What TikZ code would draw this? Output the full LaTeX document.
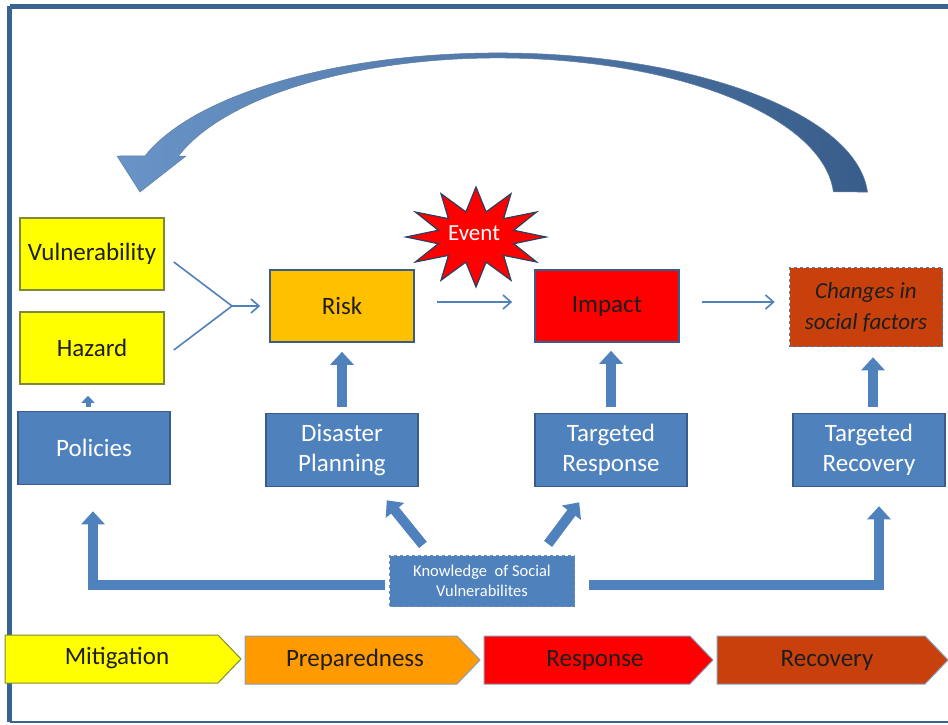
\documentclass[tikz,border=0pt]{standalone}
\usepackage{fontspec}
\setmainfont{Carlito}
\usetikzlibrary{arrows.meta,calc}
\definecolor{bfill}{HTML}{4F81BD}
\definecolor{bline}{HTML}{385D8A}
\definecolor{frameblue}{HTML}{3A6393}
\definecolor{yel}{HTML}{FFFF00}
\definecolor{yline}{HTML}{7D8A3C}
\definecolor{riskc}{HTML}{FFC000}
\definecolor{prepc}{HTML}{FF9A00}
\definecolor{redc}{HTML}{FF0000}
\definecolor{recc}{HTML}{C8400C}
\definecolor{txt}{HTML}{1E1E1E}
\tikzset{
  box/.style={draw=bline, line width=1.6pt, minimum width=144pt, minimum height=72pt, inner sep=0pt, align=center, text=txt, font=\fontsize{25}{30}\selectfont},
  bluebox/.style={box, fill=bfill, minimum width=152pt, minimum height=73pt, text=white},
  thinarrow/.style={draw=bfill, line width=1.6pt, -{Straight Barb[length=8pt,width=14pt,line width=1.6pt]}},
  thinline/.style={draw=bfill, line width=1.6pt},
  blockarrow/.style={draw=bfill, line width=10pt, -{Triangle[length=13pt,width=23pt]}},
  phaseshape/.style={draw=bline!60, line width=1pt},
  phasetext/.style={text=txt, font=\fontsize{25}{30}\selectfont, inner sep=0pt},
}
\begin{document}
\begin{tikzpicture}[x=1pt,y=-1pt]
\useasboundingbox (0,0) rectangle (948,725);
\fill[white] (0,0) rectangle (948,725);
% frame
\draw[frameblue, line width=4.5pt] (9.5,6.5) -- (960,6.5);
\draw[frameblue, line width=4.5pt] (9.5,6.5) -- (9.5,722);
\draw[frameblue, line width=2.5pt] (9.5,722) -- (960,722);

% big curved arrow
\shade[left color=bfill!85!white, right color=bline, draw=bline!80, line width=0.5pt]
  (867.5,192) arc[start angle=356.9, end angle=197.4, x radius=370, y radius=147]
  -- (117,156) -- (140,192) -- (186,156) -- (178.5,156)
  arc[start angle=198.05, end angle=356.77, x radius=336, y radius=142] -- cycle;

% event star
\draw[fill=redc, draw=bline!70!black, line width=1.2pt]
  plot[samples at={0,...,23}, variable=\k]
  ({476+(70-31*mod(\k,2))*cos(\k*15-90)}, {237+(50-24*mod(\k,2))*sin(\k*15-90)}) -- cycle;
\node[text=white, font=\fontsize{23}{26}\selectfont] (event) at (474,233) {Event};

% top row
\node[box, fill=yel, draw=yline] (vul) at (92,254) {Vulnerability};
\node[box, fill=yel, draw=yline] (haz) at (92,348) {Hazard};
\node[box, fill=riskc] (risk) at (342,306) {Risk};
\node[box, fill=redc] (impact) at (607,306) {Impact};
\node[box, fill=recc, draw=bfill, dashed, minimum width=153pt, minimum height=79pt,
      font=\fontsize{23}{31}\selectfont\itshape] (changes) at (866,307) {Changes in\\social factors};

% blue row
\node[bluebox] (pol) at (94,448) {Policies};
\node[bluebox] (plan) at (342,450) {Disaster\\Planning};
\node[bluebox] (resp) at (611,450) {Targeted\\Response};
\node[bluebox] (reco) at (869,450) {Targeted\\Recovery};
\node[box, fill=bfill, draw=bline!70, dashed, line width=1.2pt, minimum width=185pt, minimum height=51pt,
      text=white, font=\fontsize{16.5}{20}\selectfont] (know) at (482,581) {Knowledge\ \ of Social\\Vulnerabilites};

% thin connectors
\coordinate (j) at (232,306);
\draw[thinline] ($(vul.east)+(9,8)$) -- (j);
\draw[thinline] ($(haz.east)+(9,2)$) -- (j);
\draw[thinarrow] (j) -- ($(risk.west)+(-9,0)$);
\draw[thinarrow] ($(risk.east)+(22,-4)$) -- ($(impact.west)+(-22,-4)$);
\draw[thinarrow] ($(impact.east)+(22,-4)$) -- ($(changes.west)+(-14,-5)$);

% block arrows up
\draw[blockarrow] ($(plan.north)+(0,-6)$) -- ($(risk.south)+(0,9)$);
\draw[blockarrow] ($(resp.north)+(0,-6)$) -- ($(resp.north|-impact.south)+(0,8)$);
\draw[blockarrow] ($(reco.north)+(4,-6)$) -- ($(reco.north|-changes.south)+(4,10)$);
\draw[draw=bfill, line width=5pt, -{Triangle[length=7pt,width=13pt]}] ($(pol.north)+(-6,-4)$) -- ($(haz.south)+(-4,11)$);

% knowledge arrows
\draw[blockarrow] ($(know.north west)+(34,-10)$) -- ($(plan.south east)+(-32,13)$);
\draw[blockarrow] ($(know.north east)+(-27,-11)$) -- ($(resp.south west)+(45,15)$);
\draw[blockarrow, line join=miter] ($(know.west)+(-4,4)$) -| ($(pol.south)+(-1,26)$);
\draw[blockarrow, line join=miter] ($(know.east)+(14,4)$) -| ($(reco.south)+(10,19)$);

% phases
\draw[phaseshape, fill=yel, draw=yline] (5,635) -- (218,635) -- (241,659) -- (218,683) -- (5,683) -- cycle;
\draw[phaseshape, fill=prepc] (245,636) -- (457,636) -- (480,660) -- (457,684) -- (245,684) -- cycle;
\draw[phaseshape, fill=redc] (484,636) -- (690,636) -- (713,660) -- (690,684) -- (484,684) -- cycle;
\draw[phaseshape, fill=recc] (717,636) -- (925,636) -- (948,660) -- (925,684) -- (717,684) -- cycle;
\node[phasetext] (mit) at (117,658) {Mitigation};
\node[phasetext] (prep) at (355,660) {Preparedness};
\node[phasetext] (respp) at (595,660) {Response};
\node[phasetext] (recp) at (827,660) {Recovery};
\end{tikzpicture}
\end{document}
